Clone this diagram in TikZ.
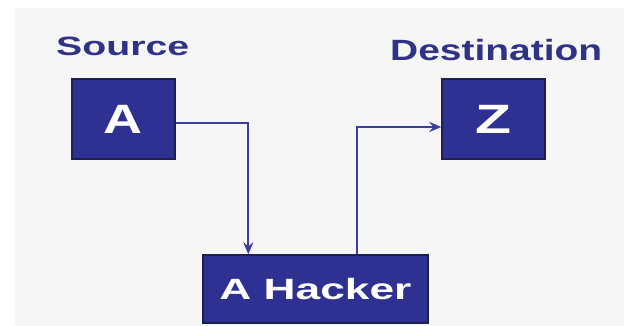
\documentclass[tikz,border=0pt]{standalone}
\usepackage{fontspec}
\setmainfont{Liberation Sans}
\usepackage{graphicx}
\usetikzlibrary{arrows.meta}
\definecolor{boxblue}{HTML}{2E3192}
\definecolor{boxedge}{HTML}{1C1F50}
\definecolor{lineblue}{HTML}{3A3E9C}
\definecolor{labelblue}{HTML}{2F3388}
\definecolor{bggray}{HTML}{F6F6F6}
\tikzset{
  bluebox/.style={draw=boxedge, line width=1.4pt, fill=boxblue, text=white, inner sep=0pt, font=\bfseries},
  labeltext/.style={text=labelblue, inner sep=0pt, font=\bfseries},
  link/.style={draw=lineblue, line width=1.9pt, -{Stealth[length=12pt,width=10pt,inset=4pt]}}
}
\begin{document}
\begin{tikzpicture}[x=1pt,y=-1pt]
\useasboundingbox (0,0) rectangle (624,326);
\fill[bggray] (15,8) rectangle (624,326);
\node[labeltext, anchor=base west] (src) at (56,56) {\fontsize{26.5}{30}\selectfont\resizebox{133pt}{\height}{Source}};
\node[labeltext, anchor=base west] (dst) at (390,61) {\fontsize{29.3}{33}\selectfont\resizebox{212pt}{\height}{Destination}};
\node[bluebox, minimum width=103pt, minimum height=80pt] (A) at (123.5,119) {\fontsize{41}{45}\selectfont\resizebox{39pt}{\height}{A}};
\node[bluebox, minimum width=103pt, minimum height=80pt] (Z) at (493.5,119) {\fontsize{41}{45}\selectfont\resizebox{36pt}{\height}{Z}};
\node[bluebox, minimum width=225pt, minimum height=68pt] (hk) at (315.5,289) {\fontsize{29.3}{33}\selectfont\resizebox{192pt}{\height}{A Hacker}};
\draw[link] ([yshift=-4pt]A.east) -| ([xshift=46pt]hk.north west);
\draw[link] ([xshift=155pt]hk.north west) |- ([yshift=-8pt]Z.west);
\end{tikzpicture}
\end{document}
